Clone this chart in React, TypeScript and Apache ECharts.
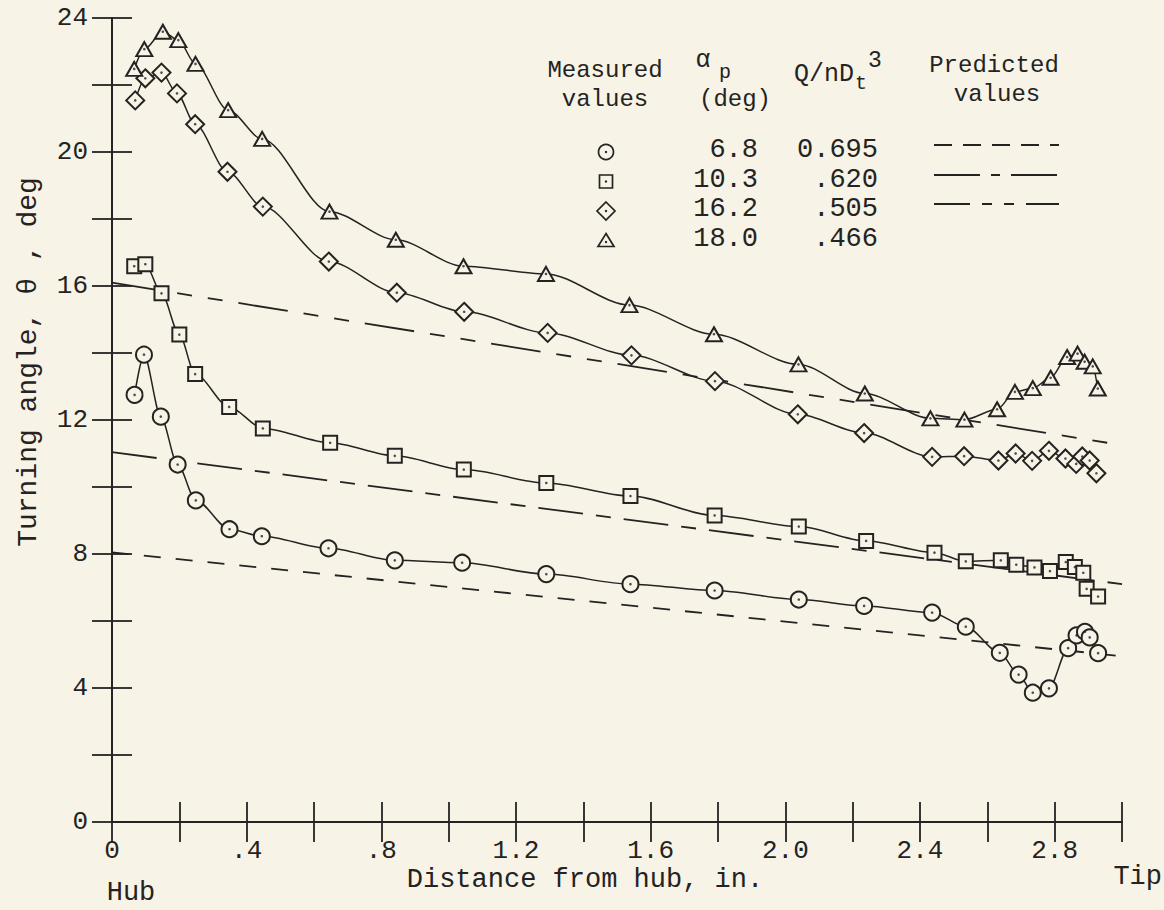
import React, { useEffect, useRef } from 'react';
import * as echarts from 'echarts';

const INK = '#242322';
const PAPER = '#f7f3e7';
const FONT = '"Liberation Mono", "DejaVu Sans Mono", monospace';

// ---- Measured values (distance from hub, in. / turning angle, deg) ----
const circleX = [0.067, 0.095, 0.145, 0.195, 0.249, 0.349, 0.445, 0.643, 0.84, 1.04, 1.29, 1.54, 1.79, 2.04, 2.234, 2.436, 2.536, 2.637, 2.693, 2.735, 2.783, 2.84, 2.865, 2.89, 2.904, 2.929];
const circleY = [12.75, 13.95, 12.1, 10.67, 9.6, 8.74, 8.53, 8.17, 7.81, 7.74, 7.4, 7.1, 6.91, 6.64, 6.45, 6.25, 5.83, 5.05, 4.4, 3.86, 3.99, 5.19, 5.57, 5.68, 5.51, 5.04];

const squareX = [0.066, 0.099, 0.147, 0.2, 0.247, 0.348, 0.448, 0.648, 0.84, 1.045, 1.29, 1.54, 1.79, 2.04, 2.24, 2.443, 2.536, 2.64, 2.686, 2.74, 2.786, 2.833, 2.86, 2.885, 2.895, 2.929];
const squareY = [16.59, 16.65, 15.78, 14.55, 13.37, 12.39, 11.75, 11.32, 10.93, 10.52, 10.12, 9.73, 9.15, 8.82, 8.39, 8.04, 7.78, 7.81, 7.68, 7.6, 7.49, 7.76, 7.61, 7.44, 6.96, 6.73];

const diamondX = [0.069, 0.099, 0.147, 0.193, 0.247, 0.343, 0.448, 0.644, 0.846, 1.046, 1.294, 1.543, 1.791, 2.037, 2.234, 2.436, 2.531, 2.633, 2.684, 2.733, 2.783, 2.832, 2.864, 2.882, 2.904, 2.924];
const diamondY = [21.54, 22.2, 22.37, 21.75, 20.83, 19.41, 18.37, 16.73, 15.8, 15.23, 14.6, 13.93, 13.16, 12.17, 11.61, 10.9, 10.92, 10.79, 11.0, 10.78, 11.08, 10.85, 10.69, 10.91, 10.79, 10.41];

const triangleX = [0.066, 0.096, 0.151, 0.197, 0.248, 0.345, 0.446, 0.646, 0.843, 1.044, 1.289, 1.537, 1.788, 2.039, 2.236, 2.431, 2.532, 2.629, 2.682, 2.735, 2.788, 2.837, 2.868, 2.889, 2.913, 2.928];
const triangleY = [22.48, 23.07, 23.59, 23.34, 22.63, 21.25, 20.39, 18.22, 17.38, 16.59, 16.36, 15.43, 14.56, 13.66, 12.79, 12.05, 12.01, 12.32, 12.84, 12.95, 13.26, 13.88, 13.98, 13.74, 13.6, 12.94];

// ---- Predicted values (straight lines, hub to tip) ----
const predictedX = [0, 3];
const predicted68 = [8.05, 4.95];
const predicted103 = [11.04, 7.1];
const predicted162 = [16.1, 11.25];

// ---- Legend table ----
const alphaP = ['6.8', '10.3', '16.2', '18.0'];
const flowCoeff = ['0.695', '.620', '.505', '.466'];

// ---- Tick labels ----
const xTickValues = [0, 0.4, 0.8, 1.2, 1.6, 2.0, 2.4, 2.8];
const xTickLabels = ['0', '.4', '.8', '1.2', '1.6', '2.0', '2.4', '2.8'];
const yTickValues = [0, 4, 8, 12, 16, 20, 24];
const yTickLabels = ['0', '4', '8', '12', '16', '20', '24'];

const zip = (xs: number[], ys: number[]) => xs.map((x, i) => [x, ys[i]]);

const findLabel = (v: number, vals: number[], labels: string[]) => {
  const i = vals.findIndex((t) => Math.abs(t - v) < 1e-6);
  return i >= 0 ? labels[i] : '';
};

export default function App() {
  const ref = useRef<HTMLDivElement>(null);

  useEffect(() => {
    if (!ref.current) return;
    const chart = echarts.init(ref.current, undefined, { renderer: 'svg' });

    const measured = [
      { name: 'α 6.8', x: circleX, y: circleY, symbol: 'circle', size: 16 },
      { name: 'α 10.3', x: squareX, y: squareY, symbol: 'rect', size: 14 },
      { name: 'α 16.2', x: diamondX, y: diamondY, symbol: 'diamond', size: 18 },
      { name: 'α 18.0', x: triangleX, y: triangleY, symbol: 'triangle', size: [16, 14] },
    ];

    const series: any[] = [];
    measured.forEach((m) => {
      series.push({
        name: m.name,
        type: 'line',
        data: zip(m.x, m.y),
        smooth: 0.3,
        smoothMonotone: 'x',
        symbol: m.symbol,
        symbolSize: m.size,
        showSymbol: true,
        lineStyle: { color: INK, width: 1.5 },
        itemStyle: { color: PAPER, borderColor: INK, borderWidth: 2 },
        z: 3,
      });
      series.push({
        name: m.name + ' center',
        type: 'scatter',
        data: zip(m.x, m.y),
        symbol: 'circle',
        symbolSize: 2.6,
        itemStyle: { color: INK },
        silent: true,
        z: 5,
      });
    });

    const predicted = [
      { name: 'Predicted 6.8', y: predicted68, dash: [17, 15] },
      { name: 'Predicted 10.3', y: predicted103, dash: [45, 13, 15, 13] },
      { name: 'Predicted 16.2', y: predicted162, dash: [50, 16, 15, 16, 15, 16] },
    ];
    predicted.forEach((p) => {
      series.push({
        name: p.name,
        type: 'line',
        data: zip(predictedX, p.y),
        symbol: 'none',
        lineStyle: { color: INK, width: 1.8, type: p.dash },
        z: 2,
      });
    });

    const txt = (text: string, x: number, y: number, size = 27, align = 'center', extra: any = {}) => ({
      type: 'text',
      x,
      y,
      silent: true,
      ...extra,
      style: {
        text,
        font: `${size}px ${FONT}`,
        fill: INK,
        textAlign: align,
        textVerticalAlign: 'middle',
      },
    });

    const rowY = [152, 181.5, 211, 240.5];
    const symX = 606;
    const graphic: any[] = [
      // header
      txt('Measured', 605, 70, 24),
      txt('values', 605, 99, 24),
      txt('α', 703, 60, 25),
      txt('p', 719, 72, 20, 'left'),
      txt('(deg)', 735, 99, 24),
      txt('Q/nD', 794, 74, 25, 'left'),
      txt('t', 855, 83, 20, 'left'),
      txt('3', 868, 61, 23, 'left'),
      txt('Predicted', 994, 65, 24),
      txt('values', 997, 94, 24),
      // legend symbols
      { type: 'circle', shape: { cx: symX, cy: rowY[0], r: 7.5 }, style: { fill: PAPER, stroke: INK, lineWidth: 1.7 } },
      { type: 'rect', shape: { x: symX - 6.5, y: rowY[1] - 6.5, width: 13, height: 13 }, style: { fill: PAPER, stroke: INK, lineWidth: 1.7 } },
      { type: 'polygon', shape: { points: [[symX, rowY[2] - 9], [symX + 9, rowY[2]], [symX, rowY[2] + 9], [symX - 9, rowY[2]]] }, style: { fill: PAPER, stroke: INK, lineWidth: 1.7 } },
      { type: 'polygon', shape: { points: [[symX, rowY[3] - 7], [symX + 8, rowY[3] + 6], [symX - 8, rowY[3] + 6]] }, style: { fill: PAPER, stroke: INK, lineWidth: 1.7 } },
      ...rowY.map((y, i) => ({ type: 'circle', shape: { cx: symX, cy: y + (i === 3 ? 1.5 : 0), r: 1.2 }, style: { fill: INK } })),
      // legend values
      ...alphaP.map((a, i) => txt(a, 758, rowY[i] - 2, 27, 'right')),
      ...flowCoeff.map((q, i) => txt(q, 878, rowY[i] - 2, 27, 'right')),
      // predicted samples
      { type: 'line', shape: { x1: 934, y1: 145, x2: 1059, y2: 145 }, style: { stroke: INK, lineWidth: 1.8, lineDash: [18, 11] } },
      { type: 'line', shape: { x1: 934, y1: 175, x2: 1059, y2: 175 }, style: { stroke: INK, lineWidth: 1.8, lineDash: [46, 11, 9, 11] } },
      { type: 'line', shape: { x1: 934, y1: 204, x2: 1059, y2: 204 }, style: { stroke: INK, lineWidth: 1.8, lineDash: [36, 12, 10, 12, 10, 12] } },
      // axis titles
      txt('Distance from hub, in.', 585, 880),
      txt('Turning angle, θ , deg', 28, 362, 28, 'center', { rotation: Math.PI / 2 }),
      txt('Hub', 131, 893),
      txt('Tip', 1162, 877, 27, 'right'),
    ];

    const axisLine = { show: true, lineStyle: { color: INK, width: 2 } };
    const axisTick = { show: true, inside: true, length: 20, lineStyle: { color: INK, width: 1.8 } };

    chart.setOption({
      animation: false,
      backgroundColor: PAPER,
      grid: { left: 112, right: 42, top: 18, bottom: 88 },
      xAxis: [
        {
          type: 'value', min: 0, max: 3, interval: 0.2, position: 'bottom',
          axisLine, axisTick, splitLine: { show: false },
          axisLabel: {
            margin: 16, color: INK, fontFamily: FONT, fontSize: 26,
            formatter: (v: number) => findLabel(v, xTickValues, xTickLabels),
          },
        },
        {
          type: 'value', min: 0, max: 3, interval: 0.2, position: 'top',
          axisLine, axisTick, splitLine: { show: false }, axisLabel: { show: false },
        },
      ],
      yAxis: [
        {
          type: 'value', min: 0, max: 24, interval: 2, position: 'left',
          axisLine, axisTick, splitLine: { show: false },
          axisLabel: {
            margin: 24, color: INK, fontFamily: FONT, fontSize: 26,
            formatter: (v: number) => findLabel(v, yTickValues, yTickLabels),
          },
        },
        {
          type: 'value', min: 0, max: 24, interval: 2, position: 'right',
          axisLine, axisTick, splitLine: { show: false }, axisLabel: { show: false },
        },
      ],
      series,
      graphic,
    });

    return () => chart.dispose();
  }, []);

  return (
    <div
      ref={ref}
      style={{ position: 'absolute', left: 0, top: 0, width: 1164, height: 910 }}
    />
  );
}
